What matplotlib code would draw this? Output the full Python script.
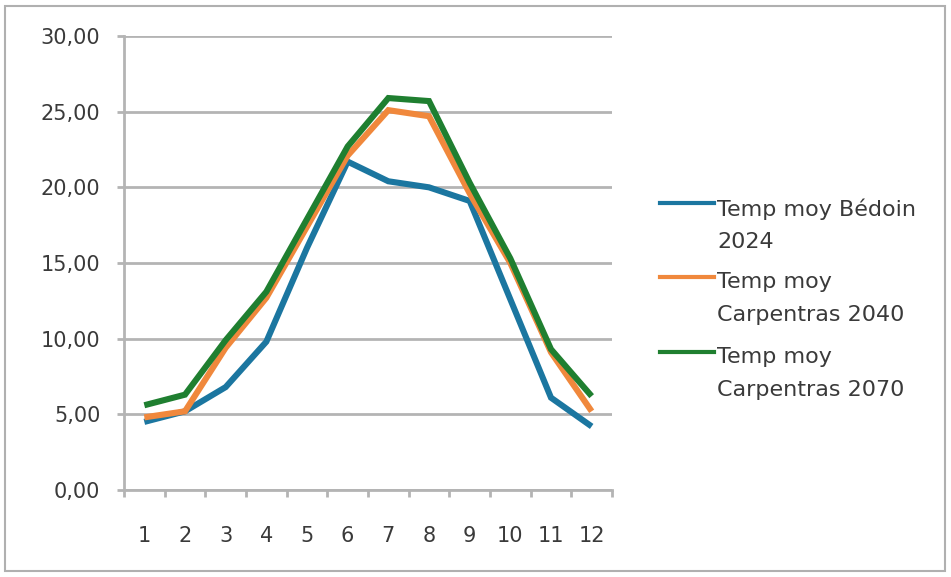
import matplotlib
matplotlib.use("Agg")
import matplotlib.pyplot as plt
from matplotlib.lines import Line2D
from matplotlib.patches import Rectangle

# Monthly mean temperatures (°C)
months = [1, 2, 3, 4, 5, 6, 7, 8, 9, 10, 11, 12]
month_labels = ["1", "2", "3", "4", "5", "6", "7", "8", "9", "10", "11", "12"]
bedoin_2024 = [4.5, 5.2, 6.8, 9.8, 16.0, 21.7, 20.4, 20.0, 19.1, 12.6, 6.1, 4.2]
carpentras_2040 = [4.8, 5.2, 9.4, 12.7, 17.4, 22.1, 25.1, 24.7, 19.6, 15.0, 9.1, 5.2]
carpentras_2070 = [5.6, 6.3, 9.9, 13.1, 17.9, 22.7, 25.9, 25.7, 20.3, 15.3, 9.3, 6.2]
series_labels = ["Temp moy Bédoin\n2024", "Temp moy\nCarpentras 2040", "Temp moy\nCarpentras 2070"]
y_ticks = [0, 5, 10, 15, 20, 25, 30]

colors = ["#1b76a0", "#f0883c", "#1f7f30"]
grid_color = "#b4b4b4"
text_color = "#3a3a3a"
FS = 15
LEG_FS = 16

W, H = 951, 577
fig = plt.figure(figsize=(W / 100, H / 100), dpi=100)
plt.rcParams["font.family"] = ["DejaVu Sans"]


def fx(px):
    return px / W


def fy(py):
    return 1 - py / H


# outer frame
fig.patches.append(Rectangle((fx(5), fy(571)), fx(945) - fx(5), fy(6) - fy(571),
                             transform=fig.transFigure, fill=False,
                             edgecolor="#b0b0b0", linewidth=1.5))

left, right, top, bottom = 124, 612, 36, 490
ax = fig.add_axes([fx(left), fy(bottom), fx(right) - fx(left), fy(top) - fy(bottom)])

for vals, c in zip([bedoin_2024, carpentras_2040, carpentras_2070], colors):
    ax.plot(months, vals, color=c, linewidth=4.4, solid_joinstyle="miter",
            solid_capstyle="butt", zorder=3)

ax.set_xlim(0.5, 12.5)
ax.set_ylim(0, 30)
ax.set_yticks(y_ticks)
ax.set_yticklabels([f"{v:.2f}".replace(".", ",") for v in y_ticks])
ax.set_xticks(months)
ax.set_xticklabels(month_labels)
ax.set_xticks([m + 0.5 for m in [0] + months], minor=True)

ax.grid(axis="y", color=grid_color, linewidth=2, zorder=1)
for s in ["top", "right"]:
    ax.spines[s].set_visible(False)
for s in ["left", "bottom"]:
    ax.spines[s].set_color(grid_color)
    ax.spines[s].set_linewidth(2)

ax.tick_params(axis="y", length=5, width=2, color=grid_color, pad=12,
               labelsize=FS, labelcolor=text_color)
ax.tick_params(axis="x", which="major", length=0, pad=26,
               labelsize=FS, labelcolor=text_color)
ax.tick_params(axis="x", which="minor", length=5, width=2, color=grid_color)

# legend
leg_y = [203, 277, 352]
for c, lab, y in zip(colors, series_labels, leg_y):
    fig.add_artist(Line2D([fx(660), fx(714)], [fy(y), fy(y)], transform=fig.transFigure,
                          color=c, linewidth=3))
    fig.text(fx(717), fy(y - 5), lab, transform=fig.transFigure, ha="left", va="top",
             fontsize=LEG_FS, color=text_color, linespacing=1.8)

fig.savefig("out.png", dpi=100)
